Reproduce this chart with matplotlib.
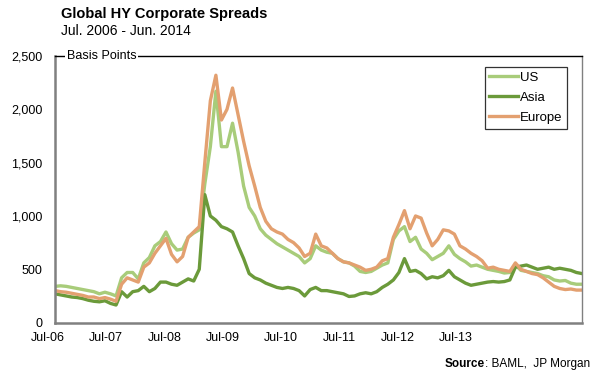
import numpy as np
import matplotlib
matplotlib.use('Agg')
import matplotlib.pyplot as plt
import matplotlib.transforms as mtransforms

plt.rcParams['font.family'] = ['Liberation Sans', 'DejaVu Sans']

# Monthly readings, Jul-2006 .. Jun-2014 (basis points)
us = [340, 345, 340, 330, 320, 310, 300, 290, 270, 285, 270, 250,
      420, 470, 470, 410, 560, 610, 720, 760, 850, 740, 680, 690,
      800, 840, 870, 1300, 1650, 2170, 1650, 1650, 1870, 1600, 1280, 1080,
      1000, 880, 820, 780, 740, 710, 680, 650, 620, 560, 600, 720,
      680, 660, 650, 600, 570, 560, 530, 480, 470, 480, 510, 540,
      560, 780, 860, 900, 760, 800, 690, 650, 590, 620, 650, 720,
      640, 600, 570, 530, 540, 520, 500, 490, 480, 465, 470, 540,
      490, 480, 470, 460, 440, 430, 400, 390, 395, 370, 360, 360]
asia = [270, 260, 250, 240, 235, 225, 210, 200, 195, 205, 180, 165,
        290, 240, 290, 300, 340, 290, 320, 380, 380, 360, 350, 380,
        410, 390, 500, 1200, 1000, 960, 900, 880, 850, 720, 600, 460,
        420, 400, 370, 350, 330, 320, 330, 320, 300, 250, 310, 330,
        300, 300, 290, 280, 270, 245, 250, 270, 280, 270, 290, 330,
        360, 400, 470, 600, 480, 490, 460, 410, 430, 420, 440, 490,
        430, 400, 370, 350, 360, 370, 380, 385, 380, 385, 400, 520,
        530, 540, 520, 500, 510, 520, 500, 510, 500, 490, 470, 460]
europe = [300, 290, 285, 275, 265, 255, 240, 240, 225, 235, 220, 200,
          360, 420, 400, 380, 520, 560, 650, 720, 790, 640, 570, 620,
          800, 850, 900, 1500, 2080, 2320, 1900, 2000, 2200, 1950, 1700, 1470,
          1280, 1080, 950, 880, 850, 830, 780, 750, 700, 620, 650, 830,
          720, 700, 650, 600, 570, 560, 540, 520, 490, 500, 520, 580,
          600, 800, 920, 1050, 880, 1000, 980, 840, 720, 780, 870, 860,
          830, 720, 690, 650, 620, 580, 510, 520, 500, 490, 480, 560,
          500, 480, 460, 450, 420, 380, 340, 320, 310, 315, 305, 305]

x_labels = ['Jul-06', 'Jul-07', 'Jul-08', 'Jul-09', 'Jul-10', 'Jul-11', 'Jul-12', 'Jul-13']
x_label_pos = [-1.3, 9.2, 19.8, 30.3, 40.7, 51.2, 61.8, 72.3]

months = np.arange(len(us))

fig = plt.figure(figsize=(5.92, 3.76), dpi=100)
ax = fig.add_axes([0.093, 0.142, 0.890, 0.709])

ax.plot(months, us, color='#A8CC7A', lw=2.4, label='US')
ax.plot(months, asia, color='#6B9A3A', lw=2.4, label='Asia')
ax.plot(months, europe, color='#E3A070', lw=2.4, label='Europe')

ax.set_xlim(0, len(us) - 1)
ax.set_ylim(0, 2500)
ax.set_yticks(range(0, 2501, 500))
ax.set_yticklabels([f'{v:,}' for v in range(0, 2501, 500)], fontsize=9)
ax.tick_params(axis='y', length=0, pad=9)
ax.set_xticks([])

# x labels sit where the original chart put them
trans = mtransforms.blended_transform_factory(ax.transData, ax.transAxes)
for pos, lab in zip(x_label_pos, x_labels):
    ax.text(pos, -0.037, lab, transform=trans, ha='center', va='top', fontsize=9)

for s in ['left', 'bottom']:
    ax.spines[s].set_color('#808080')
    ax.spines[s].set_linewidth(1.8)
ax.spines['top'].set_color('black')
ax.spines['top'].set_linewidth(1.0)
ax.spines['right'].set_color('#808080')
ax.spines['right'].set_linewidth(1.0)

ax.text(0.022, 1.0, 'Basis Points', transform=ax.transAxes, ha='left', va='center',
        fontsize=9, bbox=dict(facecolor='white', edgecolor='none', pad=1.5), zorder=5)

leg = ax.legend(loc='upper right', bbox_to_anchor=(0.9715, 0.959), fontsize=9.5, frameon=True,
                fancybox=False, edgecolor='black', handlelength=2.2, handletextpad=0.1,
                borderpad=0.35, labelspacing=0.6, borderaxespad=0)
leg.get_frame().set_linewidth(0.9)

fig.text(0.103, 0.963, 'Global HY Corporate Spreads', fontsize=10.5, fontweight='bold', ha='left', va='center')
fig.text(0.103, 0.918, 'Jul. 2006 - Jun. 2014', fontsize=10, ha='left', va='center')

fig.text(0.996, 0.033, 'Source', fontsize=8.5, fontweight='bold', ha='right', va='center')
src = fig.text(0.996, 0.033, ': BAML,  JP Morgan', fontsize=8.5, ha='right', va='center')
fig.canvas.draw()
bb = src.get_window_extent()
fig.texts[-2].set_x(bb.x0 / fig.bbox.width)

fig.savefig('out.png', dpi=100)
